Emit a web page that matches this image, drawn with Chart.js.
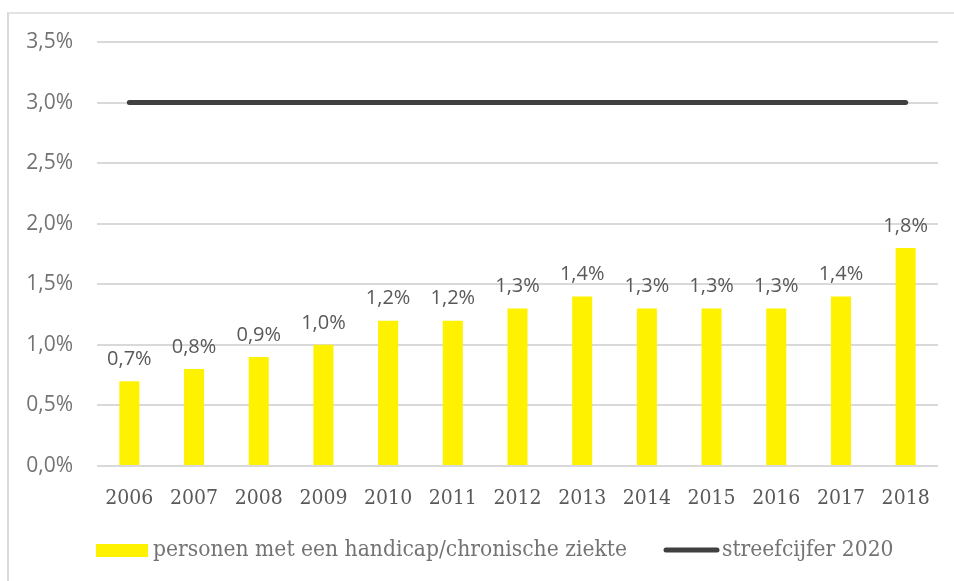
<!DOCTYPE html>
<html>
<head>
<meta charset="utf-8">
<script src="https://cdn.jsdelivr.net/npm/chart.js@4"></script>
<style>
  html, body { margin: 0; padding: 0; background: #fff; }
  #wrap { position: relative; width: 954px; height: 581px; overflow: hidden; }
  #frame { position: absolute; left: 7px; top: 12px; width: 960px; height: 600px;
           border-left: 2px solid #d9d9d9; border-top: 2px solid #e3e3e3; box-sizing: border-box; }
  canvas { position: absolute; left: 0; top: 0; }
</style>
</head>
<body>
<div id="wrap">
  <div id="frame"></div>
  <canvas id="c" width="954" height="581"></canvas>
</div>
<script>
const categories = ['2006','2007','2008','2009','2010','2011','2012','2013','2014','2015','2016','2017','2018'];
const handicapValues = [0.7, 0.8, 0.9, 1.0, 1.2, 1.2, 1.3, 1.4, 1.3, 1.3, 1.3, 1.4, 1.8];
const targetValues = [3.0, 3.0, 3.0, 3.0, 3.0, 3.0, 3.0, 3.0, 3.0, 3.0, 3.0, 3.0, 3.0];
const yTicks = [0, 0.5, 1.0, 1.5, 2.0, 2.5, 3.0, 3.5];
const seriesNames = ['personen met een handicap/chronische ziekte', 'streefcijfer 2020'];

const fmt = v => v.toFixed(1).replace('.', ',') + '%';
const sansFont = "'Open Sans', 'Noto Sans', sans-serif";
const serifFont = "'DejaVu Serif Condensed', 'DejaVu Serif', serif";
const barColor = '#FFF200';
const lineColor = '#404040';

const barLabels = {
  id: 'barLabels',
  afterDatasetsDraw(chart) {
    const ctx = chart.ctx;
    const meta = chart.getDatasetMeta(0);
    ctx.save();
    ctx.font = "20px " + sansFont;
    ctx.fillStyle = '#595959';
    ctx.textAlign = 'center';
    ctx.textBaseline = 'middle';
    meta.data.forEach((bar, i) => {
      ctx.fillText(fmt(handicapValues[i]), bar.x, bar.y - 22);
    });
    ctx.restore();
  }
};

const customLegend = {
  id: 'customLegend',
  afterDraw(chart) {
    const ctx = chart.ctx;
    const y = 550;
    ctx.save();
    ctx.font = "22.6px " + serifFont;
    ctx.textBaseline = 'middle';
    ctx.textAlign = 'left';
    ctx.fillStyle = barColor;
    ctx.fillRect(96, y - 6, 52, 13);
    ctx.fillStyle = '#737373';
    ctx.fillText(seriesNames[0], 153, y);
    ctx.strokeStyle = lineColor;
    ctx.lineWidth = 5;
    ctx.lineCap = 'round';
    ctx.beginPath();
    ctx.moveTo(666, y);
    ctx.lineTo(717, y);
    ctx.stroke();
    ctx.fillText(seriesNames[1], 722, y);
    ctx.restore();
  }
};

new Chart(document.getElementById('c'), {
  data: {
    labels: categories,
    datasets: [
      {
        type: 'bar',
        label: seriesNames[0],
        data: handicapValues,
        backgroundColor: barColor,
        borderWidth: 0,
        barPercentage: 0.31,
        categoryPercentage: 1.0,
        order: 2
      },
      {
        type: 'line',
        label: seriesNames[1],
        data: targetValues,
        borderColor: lineColor,
        borderWidth: 5,
        borderCapStyle: 'round',
        pointRadius: 0,
        fill: false,
        order: 1
      }
    ]
  },
  options: {
    responsive: false,
    animation: false,
    layout: { padding: { left: 10, right: 16, top: 42, bottom: 53 } },
    scales: {
      x: {
        offset: true,
        grid: { display: false, drawTicks: false },
        border: { display: false },
        ticks: { font: { family: serifFont, size: 21 }, color: '#595959', padding: 20, maxRotation: 0 },
        afterFit(s) { s.height = 62; }
      },
      y: {
        min: 0, max: 3.5,
        afterBuildTicks(s) { s.ticks = yTicks.map(v => ({ value: v })); },
        grid: { color: '#d9d9d9', lineWidth: 2, drawTicks: false },
        border: { display: false },
        ticks: { font: { family: sansFont, size: 21 }, color: '#737373', padding: 24, callback: v => fmt(v) },
        afterFit(s) { s.width = 87; }
      }
    },
    plugins: {
      tooltip: { enabled: false },
      legend: { display: false }
    }
  },
  plugins: [barLabels, customLegend]
});
</script>
</body>
</html>
